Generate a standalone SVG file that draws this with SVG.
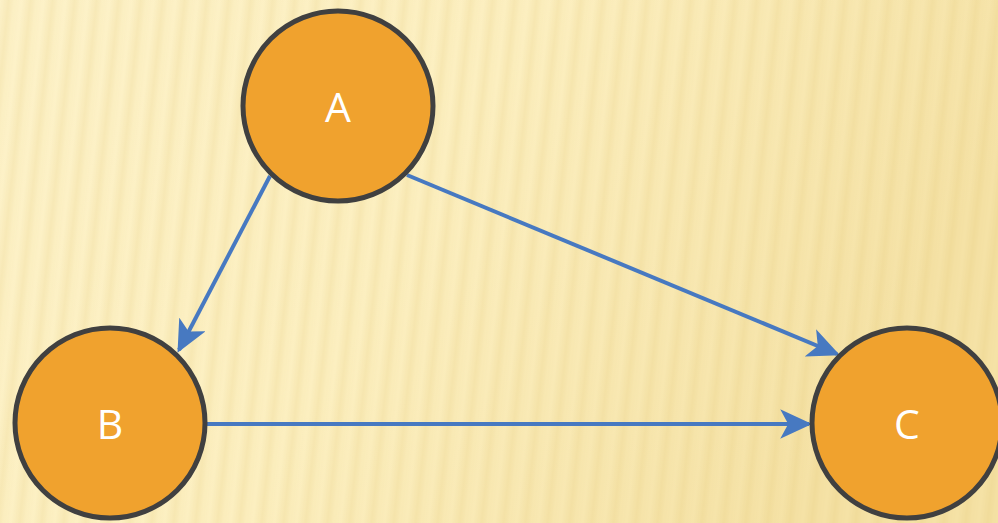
<svg xmlns="http://www.w3.org/2000/svg" width="998" height="523" viewBox="0 0 998 523">
<defs>
<linearGradient id="bg" x1="0" y1="0" x2="1" y2="0.3">
<stop offset="0" stop-color="#FDF2C9"/>
<stop offset="0.5" stop-color="#FCEFC0"/>
<stop offset="1" stop-color="#F5E2A6"/>
</linearGradient>
<linearGradient id="stripeG" x1="0" y1="0" x2="1" y2="0">
<stop offset="0" stop-color="#D9B85A" stop-opacity="0"/>
<stop offset="0.4" stop-color="#D9B85A" stop-opacity="0.15"/>
<stop offset="0.65" stop-color="#D9B85A" stop-opacity="0.05"/>
<stop offset="1" stop-color="#D9B85A" stop-opacity="0"/>
</linearGradient>
<pattern id="stripes" width="22" height="600" patternUnits="userSpaceOnUse" patternTransform="skewX(-6)">
<rect x="0" y="0" width="22" height="600" fill="url(#stripeG)"/>
</pattern>
<marker id="arrow" markerWidth="8" markerHeight="7.4" refX="7.2" refY="3.7" orient="auto" markerUnits="strokeWidth">
<path d="M0,0 L8,3.7 L0,7.4 L2,3.7 z" fill="#4779C1"/>
</marker>
<style>
.node{fill:#F0A22E;stroke:#404040;stroke-width:5}
.lbl{fill:#ffffff;font-family:"Open Sans","Noto Sans",sans-serif;font-size:41px;text-anchor:middle}
.edge{stroke:#4779C1;stroke-width:4;fill:none;marker-end:url(#arrow)}
</style>
</defs>
<rect width="998" height="523" fill="url(#bg)"/>
<rect width="998" height="523" fill="url(#stripes)"/>
<g id="connectors">
<line class="edge" x1="270" y1="176" x2="179" y2="350"/>
<line class="edge" x1="407" y1="175" x2="837" y2="354"/>
<line class="edge" x1="207" y1="424" x2="809" y2="424"/>
</g>
<g id="node-A">
<circle class="node" cx="338" cy="106" r="95"/>
<text class="lbl" x="338" y="122">A</text>
</g>
<g id="node-B">
<circle class="node" cx="110" cy="423" r="95"/>
<text class="lbl" x="110" y="439">B</text>
</g>
<g id="node-C">
<circle class="node" cx="907" cy="423" r="95"/>
<text class="lbl" x="907" y="439">C</text>
</g>
</svg>
